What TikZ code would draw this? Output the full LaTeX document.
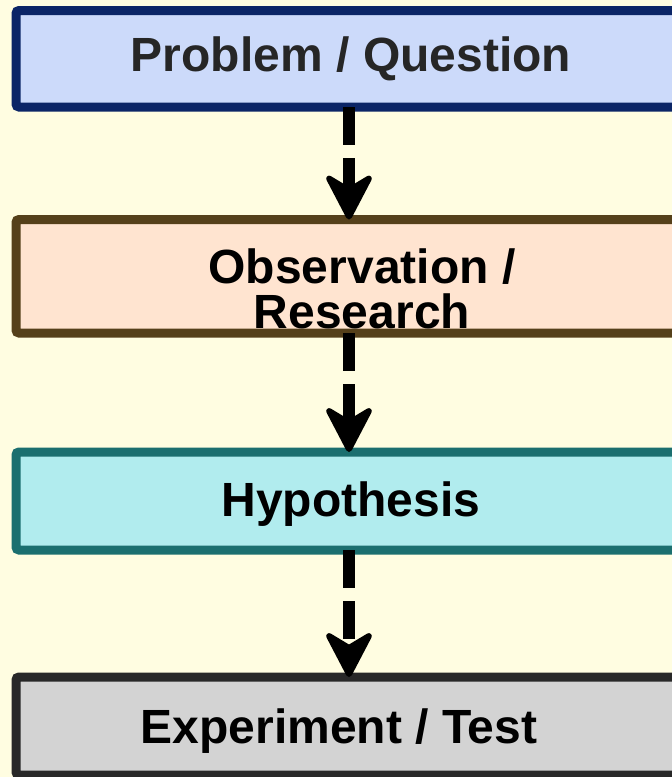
\documentclass[tikz,border=0pt]{standalone}
\usepackage{fontspec}
\setmainfont{Liberation Sans}
\usetikzlibrary{arrows.meta}
\definecolor{paper}{HTML}{FFFDE1}
\definecolor{qfill}{HTML}{CCDAFA}
\definecolor{qline}{HTML}{0B2566}
\definecolor{ofill}{HTML}{FFE4D0}
\definecolor{oline}{HTML}{55401A}
\definecolor{hfill}{HTML}{B1ECEE}
\definecolor{hline}{HTML}{1B6F6F}
\definecolor{efill}{HTML}{D3D3D3}
\definecolor{eline}{HTML}{282828}
\tikzset{
  stagebox/.style={rectangle, rounded corners=3pt, line width=9pt, outer sep=0pt, inner sep=0pt},
  stagetext/.style={inner sep=0pt, anchor=base, font=\bfseries\fontsize{48}{41}\selectfont, align=center},
  flow/.style={line width=12pt, dash pattern=on 38pt off 13pt,
    -{Stealth[length=52pt, width=54pt, inset=16pt, round, line width=6pt]}},
}
\begin{document}
\begin{tikzpicture}[x=1pt, y=-1pt]
  \useasboundingbox (0,0) rectangle (672,777);
  \fill[paper] (0,0) rectangle (672,777);
  \clip (0,0) rectangle (672,777);

  % the four stages, running off the right edge
  \node[stagebox, draw=qline, fill=qfill, minimum width=704pt, minimum height=96.5pt] (q) at (368,58.75) {};
  \node[stagebox, draw=oline, fill=ofill, minimum width=704pt, minimum height=113.5pt] (o) at (368,276.25) {};
  \node[stagebox, draw=hline, fill=hfill, minimum width=704pt, minimum height=98pt] (h) at (368,501) {};
  \node[stagebox, draw=eline, fill=efill, minimum width=704pt, minimum height=98pt] (e) at (368,726) {};

  % stage labels
  \node[stagetext, text=black!85] (qt) at (351,71) {Problem / Question};
  \node[stagetext] (ot1) at (362,283) {Observation /};
  \node[stagetext] (ot2) at (362,328) {Research};
  \node[stagetext] (ht) at (351,516) {Hypothesis};
  \node[stagetext] (et) at (339,743) {Experiment / Test};

  % dashed connectors between the stages
  \coordinate (ax) at (349,0);
  \draw[flow] (q.south -| ax) -- (o.north -| ax);
  \draw[flow] (o.south -| ax) -- (h.north -| ax);
  \draw[flow] (h.south -| ax) -- (e.north -| ax);
\end{tikzpicture}
\end{document}
